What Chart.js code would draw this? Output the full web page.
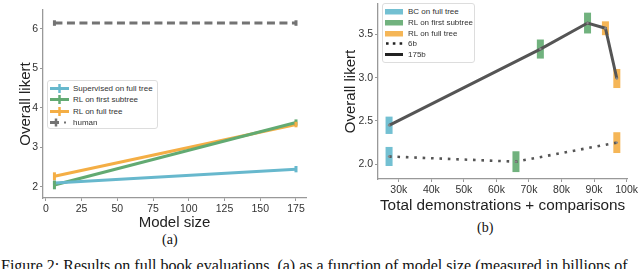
<!DOCTYPE html>
<html>
<head>
<meta charset="utf-8">
<script src="https://cdn.jsdelivr.net/npm/chart.js@4.4.0/dist/chart.umd.min.js"></script>
<style>
  body { margin: 0; width: 640px; height: 269px; overflow: hidden; background: #fff; position: relative; font-family: "Liberation Sans", Arial, sans-serif; }
  canvas { position: absolute; }
  .cap { position: absolute; font-family: "Liberation Serif", "Times New Roman", serif; color: #111; white-space: nowrap; }
  .legend { position: absolute; border: 1px solid #ddd; border-radius: 3px; background: #fff; font-size: 8px; color: #333; }
  .legend .row { position: absolute; left: 0; height: 11px; line-height: 11px; white-space: nowrap; }
  .legend svg { position: absolute; top: 0; }
  .legend span { position: absolute; }
</style>
</head>
<body>
<canvas id="chartA" width="320" height="232" style="left:0;top:0;width:320px;height:232px"></canvas>
<canvas id="chartB" width="320" height="215" style="left:320px;top:0;width:320px;height:215px"></canvas>
<div class="cap" style="left:162px;top:232px;font-size:14px">(a)</div>
<div class="cap" style="left:477px;top:220px;font-size:14px">(b)</div>
<div class="cap" style="left:1px;top:258px;font-size:16px;line-height:16px">Figure 2: Results on full book evaluations, (a) as a function of model size (measured in billions of</div>
<div class="legend" id="legA" style="left:47px;top:80px;width:109px;height:47px"></div>
<div class="legend" id="legB" style="left:382px;top:3px;width:91px;height:58px"></div>
<script>
// ---- chart (a): likert vs model size ----
const modelSizes = [6, 175];
const supervised = [2.10, 2.45];
const supervisedErr = [0.06, 0.08];
const rlSubtree = [2.05, 3.63];
const rlSubtreeErr = [0.11, 0.08];
const rlFull = [2.27, 3.58];
const rlFullErr = [0.10, 0.07];
const human = [6.15, 6.15];
const humanErr = [0.07, 0.07];
const ticksA_x = [0, 25, 50, 75, 100, 125, 150, 175];
const ticksA_y = [2, 3, 4, 5, 6];

// ---- chart (b): likert vs total demonstrations + comparisons ----
const total175 = [27000, 73500, 88000, 93500, 97000];
const likert175 = [2.45, 3.33, 3.63, 3.57, 2.99];
const err175 = [0.10, 0.11, 0.12, 0.08, 0.11];
const method175 = ['bc', 'sub', 'sub', 'full', 'full'];
const total6 = [27000, 66000, 97000];
const likert6 = [2.09, 2.03, 2.25];
const err6 = [0.11, 0.12, 0.12];
const method6 = ['bc', 'sub', 'full'];
const ticksB_x = [30000, 40000, 50000, 60000, 70000, 80000, 90000, 100000];
const ticksB_y = [2.0, 2.5, 3.0, 3.5];

const CYAN = '#67b8cd', GREEN = '#62aa72', ORANGE = '#f4ae45', GRAY = '#737373', DARK = '#555555';
const methodColor = { bc: 'rgba(100,185,205,0.9)', sub: 'rgba(98,170,112,0.9)', full: 'rgba(244,174,69,0.9)' };

const pts = (xs, ys) => xs.map((x, i) => ({ x: x, y: ys[i] }));

const axisFont = { family: 'Liberation Sans', size: 10.5 };
const titleFont = { family: 'Liberation Sans', size: 15 };

function axis(min, max, ticks, fmt, fit) {
  return {
    type: 'linear', min: min, max: max,
    afterBuildTicks: s => { s.ticks = ticks.map(v => ({ value: v })); },
    afterFit: fit,
    ticks: { font: axisFont, color: '#333', padding: 2, callback: fmt },
    grid: { drawOnChartArea: false, drawTicks: true, tickLength: 3, color: '#999' },
    border: { display: true, color: '#999', width: 1.3 }
  };
}

// vertical error bars for chart (a)
const errorBars = {
  id: 'errorBars',
  afterDatasetsDraw(chart) {
    const ctx = chart.ctx, xs = chart.scales.x, ys = chart.scales.y;
    chart.data.datasets.forEach(ds => {
      if (!ds.errs) return;
      ctx.save();
      ctx.strokeStyle = ds.borderColor;
      ctx.lineWidth = 3;
      ds.data.forEach((p, i) => {
        const px = xs.getPixelForValue(p.x);
        ctx.beginPath();
        ctx.moveTo(px, ys.getPixelForValue(p.y - ds.errs[i]));
        ctx.lineTo(px, ys.getPixelForValue(p.y + ds.errs[i]));
        ctx.stroke();
      });
      ctx.restore();
    });
  }
};

// shaded error boxes for chart (b)
const errorBoxes = {
  id: 'errorBoxes',
  beforeDatasetsDraw(chart) {
    const ctx = chart.ctx, xs = chart.scales.x, ys = chart.scales.y;
    chart.data.datasets.forEach(ds => {
      ds.data.forEach((p, i) => {
        const px = xs.getPixelForValue(p.x);
        const top = ys.getPixelForValue(p.y + ds.errs[i]);
        const bot = ys.getPixelForValue(p.y - ds.errs[i]);
        ctx.fillStyle = methodColor[ds.methods[i]];
        ctx.fillRect(px - 3.5, top, 7, bot - top);
      });
    });
  }
};

new Chart(document.getElementById('chartA'), {
  type: 'scatter',
  data: {
    datasets: [
      { label: 'human', data: pts(modelSizes, human), errs: humanErr, borderColor: GRAY, borderWidth: 3, borderDash: [8, 4.5], showLine: true, pointRadius: 0 },
      { label: 'Supervised on full tree', data: pts(modelSizes, supervised), errs: supervisedErr, borderColor: CYAN, borderWidth: 3, showLine: true, pointRadius: 0 },
      { label: 'RL on first subtree', data: pts(modelSizes, rlSubtree), errs: rlSubtreeErr, borderColor: GREEN, borderWidth: 3, showLine: true, pointRadius: 0 },
      { label: 'RL on full tree', data: pts(modelSizes, rlFull), errs: rlFullErr, borderColor: ORANGE, borderWidth: 3, showLine: true, pointRadius: 0 }
    ]
  },
  options: {
    responsive: false, animation: false,
    layout: { padding: { left: 17, top: 10, right: 14, bottom: 0 } },
    plugins: { legend: { display: false }, tooltip: { enabled: false } },
    scales: {
      x: Object.assign(axis(-2, 182, ticksA_x, v => v, s => { s.height = 34; }),
        { title: { display: true, text: 'Model size', font: titleFont, color: '#222', padding: { top: 0, bottom: 0 } } }),
      y: Object.assign(axis(1.72, 6.48, ticksA_y, v => v, s => { s.width = 26; s.paddingTop = 0; }),
        { title: { display: true, text: 'Overall likert', font: titleFont, color: '#222', padding: { top: 0, bottom: 0 } } })
    }
  },
  plugins: [errorBars]
});

new Chart(document.getElementById('chartB'), {
  type: 'scatter',
  data: {
    datasets: [
      { label: '175b', data: pts(total175, likert175), errs: err175, methods: method175, borderColor: DARK, borderWidth: 3, showLine: true, pointRadius: 1.2, pointBackgroundColor: '#888', pointBorderWidth: 0 },
      { label: '6b', data: pts(total6, likert6), errs: err6, methods: method6, borderColor: DARK, borderWidth: 2.6, borderDash: [2.6, 5.8], showLine: true, pointRadius: 1.2, pointBackgroundColor: '#888', pointBorderWidth: 0 }
    ]
  },
  options: {
    responsive: false, animation: false,
    layout: { padding: { left: 22, top: 0, right: 12, bottom: 0 } },
    plugins: { legend: { display: false }, tooltip: { enabled: false } },
    scales: {
      x: Object.assign(axis(23600, 100200, ticksB_x, v => (v / 1000) + 'k', s => { s.height = 36; }),
        { title: { display: true, text: 'Total demonstrations + comparisons', font: { family: 'Liberation Sans', size: 15.3 }, color: '#222', padding: { top: 0, bottom: 0 } } }),
      y: Object.assign(axis(1.83, 3.85, ticksB_y, v => v.toFixed(1), s => { s.width = 36; s.paddingTop = 0; }),
        { title: { display: true, text: 'Overall likert', font: titleFont, color: '#222', padding: { top: 0, bottom: 0 } } })
    }
  },
  plugins: [errorBoxes]
});

// legends
function row(leg, y, svg, text) {
  const r = document.createElement('div');
  r.className = 'row';
  r.style.top = y + 'px';
  r.innerHTML = svg + '<span style="left:25px">' + text + '</span>';
  leg.appendChild(r);
}
const legA = document.getElementById('legA');
const crossLine = c => '<svg width="24" height="11" style="left:1px"><line x1="1" y1="5.5" x2="20" y2="5.5" stroke="' + c + '" stroke-width="3"/><line x1="10.5" y1="1" x2="10.5" y2="10" stroke="' + c + '" stroke-width="2.5"/></svg>';
row(legA, 1.5, crossLine(CYAN), 'Supervised on full tree');
row(legA, 13, crossLine(GREEN), 'RL on first subtree');
row(legA, 24.5, crossLine(ORANGE), 'RL on full tree');
row(legA, 36, '<svg width="24" height="11" style="left:1px"><line x1="1" y1="5.5" x2="10" y2="5.5" stroke="' + GRAY + '" stroke-width="3"/><line x1="7" y1="1.5" x2="7" y2="9.5" stroke="' + GRAY + '" stroke-width="2.5"/><rect x="15" y="4.5" width="2" height="2" fill="' + GRAY + '"/></svg>', 'human');

const legB = document.getElementById('legB');
const box = c => '<svg width="24" height="11" style="left:1px"><rect x="1" y="3" width="18" height="5.5" fill="' + c + '"/></svg>';
row(legB, 1.5, box(methodColor.bc), 'BC on full tree');
row(legB, 12.5, box(methodColor.sub), 'RL on first subtree');
row(legB, 23.5, box(methodColor.full), 'RL on full tree');
row(legB, 34, '<svg width="24" height="11" style="left:1px"><line x1="2" y1="5.5" x2="19" y2="5.5" stroke="#222" stroke-width="2.6" stroke-dasharray="2.6 4.2"/></svg>', '6b');
row(legB, 45, '<svg width="24" height="11" style="left:1px"><line x1="1" y1="5.5" x2="19" y2="5.5" stroke="#222" stroke-width="3"/></svg>', '175b');
</script>
</body>
</html>
